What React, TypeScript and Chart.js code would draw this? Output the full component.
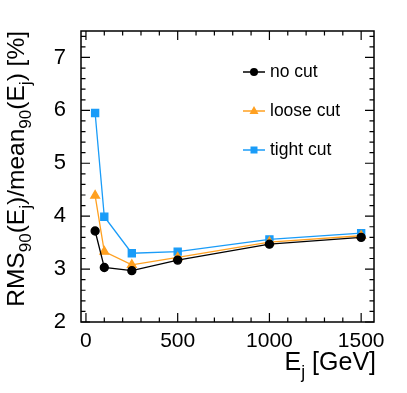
import React, { useEffect, useRef } from "react";
import { Chart, registerables } from "chart.js";

Chart.register(...registerables);

const energies = [50, 100, 250, 500, 1000, 1500];
const noCut = [3.72, 3.03, 2.97, 3.17, 3.47, 3.60];
const looseCut = [4.39, 3.33, 3.08, 3.22, 3.51, 3.63];
const tightCut = [5.95, 3.99, 3.30, 3.33, 3.56, 3.68];
const seriesNames = ["no cut", "loose cut", "tight cut"];
const xTicks = [0, 500, 1000, 1500];
const yTicks = [2, 3, 4, 5, 6, 7];

const FONT = "'Liberation Sans', Arial, Helvetica, sans-serif";

function drawRich(ctx: CanvasRenderingContext2D, parts: [string, boolean][], size: number, measureOnly: boolean, x0 = 0, y0 = 0) {
  let x = x0;
  for (const [t, sub] of parts) {
    const s = sub ? size * 0.7 : size;
    ctx.font = `${s}px ${FONT}`;
    if (!measureOnly) ctx.fillText(t, x, y0 + (sub ? size * 0.3 : 0));
    x += ctx.measureText(t).width;
  }
  return x - x0;
}

const framePlugin = {
  id: "rootFrame",
  afterDraw(chart: any) {
    const ctx = chart.ctx as CanvasRenderingContext2D;
    const { left, right, top, bottom } = chart.chartArea;
    const xs = chart.scales.x;
    const ys = chart.scales.y;
    ctx.save();
    ctx.strokeStyle = "#000";
    ctx.lineWidth = 1.5;
    ctx.strokeRect(left, top, right - left, bottom - top);
    ctx.lineWidth = 1.2;
    ctx.beginPath();
    for (let v = 0; v <= 1500; v += 100) {
      const px = xs.getPixelForValue(v);
      const len = v % 500 === 0 ? 9 : 4.5;
      ctx.moveTo(px, bottom);
      ctx.lineTo(px, bottom - len);
      ctx.moveTo(px, top);
      ctx.lineTo(px, top + len);
    }
    for (let i = 0; i <= 27; i++) {
      const v = 2 + i * 0.2;
      const py = ys.getPixelForValue(v);
      const len = i % 5 === 0 ? 9 : 4.5;
      ctx.moveTo(left, py);
      ctx.lineTo(left + len, py);
      ctx.moveTo(right, py);
      ctx.lineTo(right - len, py);
    }
    ctx.stroke();

    // axis titles
    ctx.fillStyle = "#000";
    ctx.textBaseline = "alphabetic";
    ctx.textAlign = "left";
    const xParts: [string, boolean][] = [["E", false], ["j", true], [" [GeV]", false]];
    const xw = drawRich(ctx, xParts, 25, true);
    drawRich(ctx, xParts, 25, false, right + 2 - xw, 370);

    const yParts: [string, boolean][] = [
      ["RMS", false], ["90", true], ["(E", false], ["j", true], [")/mean", false], ["90", true], ["(E", false], ["j", true], [") [%]", false],
    ];
    const yw = drawRich(ctx, yParts, 24.5, true);
    ctx.translate(24, top + yw);
    ctx.rotate(-Math.PI / 2);
    drawRich(ctx, yParts, 24.5, false, 0, 0);
    ctx.restore();

    // legend
    ctx.save();
    const rows = [72, 111, 150];
    chart.data.datasets.forEach((ds: any, i: number) => {
      const y = rows[i];
      ctx.strokeStyle = ds.borderColor;
      ctx.lineWidth = 1.5;
      ctx.beginPath();
      ctx.moveTo(243, y);
      ctx.lineTo(265, y);
      ctx.stroke();
      ctx.fillStyle = ds.backgroundColor;
      ctx.beginPath();
      if (ds.pointStyle === "circle") {
        ctx.arc(254, y, 4, 0, Math.PI * 2);
      } else if (ds.pointStyle === "triangle") {
        ctx.moveTo(254, y - 5);
        ctx.lineTo(258.5, y + 3);
        ctx.lineTo(249.5, y + 3);
        ctx.closePath();
      } else {
        ctx.rect(250.5, y - 3.5, 7, 7);
      }
      ctx.fill();
      ctx.fillStyle = "#000";
      ctx.font = `17.5px ${FONT}`;
      ctx.textBaseline = "middle";
      ctx.fillText(ds.label, 270, y);
    });
    ctx.restore();
  },
};

export default function App() {
  const ref = useRef<HTMLCanvasElement | null>(null);
  useEffect(() => {
    document.body.style.margin = "0";
    const canvas = ref.current!;
    const chart = new Chart(canvas, {
      type: "line",
      data: {
        datasets: [
          { label: seriesNames[0], data: energies.map((e, i) => ({ x: e, y: noCut[i] })), borderColor: "#000000", backgroundColor: "#000000", pointStyle: "circle", pointRadius: 4, borderWidth: 1.3 },
          { label: seriesNames[1], data: energies.map((e, i) => ({ x: e, y: looseCut[i] })), borderColor: "#ffa020", backgroundColor: "#ffa020", pointStyle: "triangle", pointRadius: 5, borderWidth: 1.3 },
          { label: seriesNames[2], data: energies.map((e, i) => ({ x: e, y: tightCut[i] })), borderColor: "#1a9cf8", backgroundColor: "#1a9cf8", pointStyle: "rect", pointRadius: 5, borderWidth: 1.3 },
        ],
      },
      options: {
        responsive: false,
        animation: false,
        devicePixelRatio: 1,
        layout: { padding: { left: 40, right: 33, top: 31, bottom: 0 } },
        plugins: { legend: { display: false }, tooltip: { enabled: false } },
        scales: {
          x: {
            type: "linear",
            min: -27,
            max: 1570,
            grid: { display: false },
            border: { display: false },
            afterBuildTicks: (s: any) => { s.ticks = xTicks.map((v) => ({ value: v })); },
            afterFit: (s: any) => { s.height = 71; },
            ticks: { color: "#000", font: { family: FONT, size: 21 }, padding: -1, maxRotation: 0, callback: (v: any) => String(v) },
          },
          y: {
            type: "linear",
            min: 2,
            max: 7.5,
            grid: { display: false },
            border: { display: false },
            afterBuildTicks: (s: any) => { s.ticks = yTicks.map((v) => ({ value: v })); },
            afterFit: (s: any) => { s.width = 41; },
            ticks: { color: "#000", font: { family: FONT, size: 22 }, padding: 7, callback: (v: any) => String(v) },
          },
        },
      },
      plugins: [framePlugin],
    } as any);
    return () => chart.destroy();
  }, []);
  return <canvas ref={ref} width={407} height={393} style={{ display: "block", width: 407, height: 393 }} />;
}
